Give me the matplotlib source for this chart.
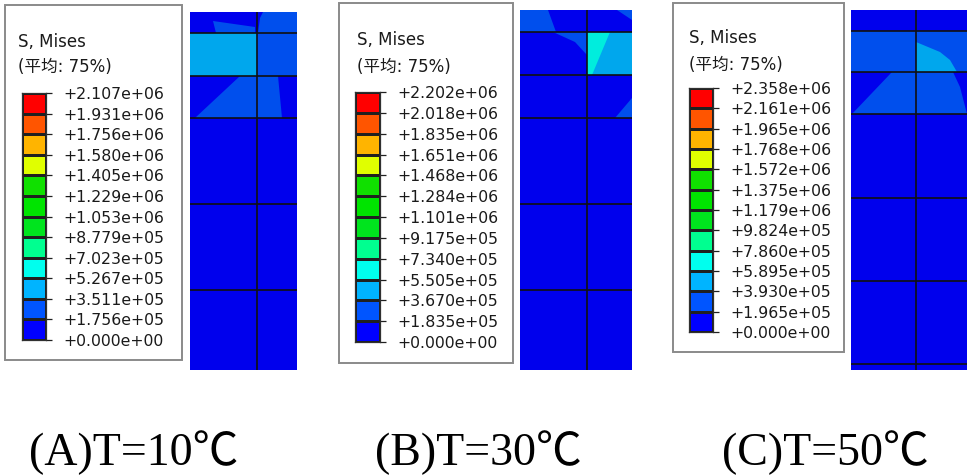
import matplotlib
matplotlib.use("Agg")
import matplotlib.pyplot as plt
from matplotlib.colors import ListedColormap, to_rgb
from matplotlib.patches import Rectangle, Polygon
import numpy as np

W, H = 969, 475

# Abaqus contour bands (bottom -> top)
band_colors = ['#0000ff', '#0055ff', '#00b4ff', '#00ffee', '#00ff90', '#00e41e',
               '#00e400', '#10e000', '#e0ff00', '#ffb400', '#ff5500', '#ff0000']

levels_A = [0.000e+00, 1.756e+05, 3.511e+05, 5.267e+05, 7.023e+05, 8.779e+05, 1.053e+06,
            1.229e+06, 1.405e+06, 1.580e+06, 1.756e+06, 1.931e+06, 2.107e+06]
levels_B = [0.000e+00, 1.835e+05, 3.670e+05, 5.505e+05, 7.340e+05, 9.175e+05, 1.101e+06,
            1.284e+06, 1.468e+06, 1.651e+06, 1.835e+06, 2.018e+06, 2.202e+06]
levels_C = [0.000e+00, 1.965e+05, 3.930e+05, 5.895e+05, 7.860e+05, 9.824e+05, 1.179e+06,
            1.375e+06, 1.572e+06, 1.768e+06, 1.965e+06, 2.161e+06, 2.358e+06]

captions = ['(A)T=10℃', '(B)T=30℃', '(C)T=50℃']
title1 = 'S, Mises'
title2 = '(平均: 75%)'

# mesh geometry (model units, y down) and band index of each element
xedges_A = [0, 67, 134]
yedges_A = [0, 21, 64, 106, 192, 278, 364]
cells_A = [[0, 0], [2, 1], [0, 0], [0, 0], [0, 0], [0, 0]]
zones_A = [(1, [(23, 9), (65, 15), (65, 21), (26, 21)]),
           (1, [(68, 21), (70, 6), (73, 0), (134, 0), (134, 21)]),
           (1, [(5, 106), (50, 64), (88, 64), (92, 106)])]

xedges_B = [0, 67, 134]
yedges_B = [0, 22, 65, 108, 194, 280, 366]
cells_B = [[0, 0], [0, 2], [0, 0], [0, 0], [0, 0], [0, 0]]
zones_B = [(1, [(0, 0), (28, 0), (36, 22), (0, 22)]),
           (1, [(97, 0), (112, 0), (112, 10)]),
           (1, [(33, 22), (67, 22), (67, 45), (55, 32)]),
           (3, [(67, 22), (90, 22), (72, 65), (67, 65)]),
           (1, [(95, 108), (112, 88), (112, 108)])]

xedges_C = [0, 65, 130]
yedges_C = [0, 21, 62, 104, 188, 271, 354, 437]
cells_C = [[0, 0], [1, 1], [0, 0], [0, 0], [0, 0], [0, 0], [0, 0]]
zones_C = [(2, [(65, 32), (89, 42), (99, 50), (106, 62), (65, 62)]),
           (1, [(1, 104), (41, 62), (102, 62), (109, 77), (116, 104)])]

# layout in pixels: legend box, colour bar, title x/y, mesh window, caption x
panels = [
    dict(levels=levels_A, box=(5, 5, 182, 360), bar=(22, 93, 46, 340), tx=18, ty=(42, 67),
         mesh=(190, 12, 297, 370), xe=xedges_A, ye=yedges_A, cells=cells_A, zones=zones_A, cx=134),
    dict(levels=levels_B, box=(339, 3, 513, 363), bar=(355, 92, 380, 342), tx=357, ty=(40, 67),
         mesh=(520, 10, 632, 370), xe=xedges_B, ye=yedges_B, cells=cells_B, zones=zones_B, cx=478),
    dict(levels=levels_C, box=(673, 3, 844, 352), bar=(689, 88, 713, 332), tx=689, ty=(38, 65),
         mesh=(851, 10, 967, 370), xe=xedges_C, ye=yedges_C, cells=cells_C, zones=zones_C, cx=825),
]

cmap = ListedColormap(band_colors)
mesh_colors = [tuple(np.array(to_rgb(c)) * 0.93) for c in band_colors]
mesh_cmap = ListedColormap(mesh_colors)

fig = plt.figure(figsize=(W / 100, H / 100), dpi=100)
fig.patch.set_facecolor('white')

def px_rect(x0, y0, x1, y1):
    return [x0 / W, 1 - y1 / H, (x1 - x0) / W, (y1 - y0) / H]

bg = fig.add_axes([0, 0, 1, 1])
bg.set_xlim(0, W)
bg.set_ylim(H, 0)
bg.axis('off')

for i, p in enumerate(panels):
    x0, y0, x1, y1 = p['box']
    bg.add_patch(Rectangle((x0, y0), x1 - x0, y1 - y0, facecolor='white',
                           edgecolor='#8a8a8a', lw=1.4))
    bg.text(p['tx'], p['ty'][0], title1, fontsize=12, color='#1a1a1a', va='center',
            family=['DejaVu Sans', 'Noto Sans CJK SC'])
    bg.text(p['tx'], p['ty'][1], title2, fontsize=12, color='#1a1a1a', va='center',
            family=['DejaVu Sans', 'Noto Sans CJK SC'])
    bg.text(p['cx'], 465, captions[i], fontsize=33, ha='center',
            va='baseline', color='black',
            family=['Liberation Serif', 'Noto Sans CJK SC'])

    # colour bar
    lev = p['levels']
    cax = fig.add_axes(px_rect(*p['bar']))
    cax.pcolormesh([0, 1], lev, np.arange(12).reshape(-1, 1), cmap=cmap,
                   vmin=-0.5, vmax=11.5, edgecolors='#202020', linewidth=0.9)
    cax.set_ylim(lev[0], lev[-1])
    cax.set_xlim(0, 1)
    cax.set_xticks([])
    cax.yaxis.tick_right()
    cax.set_yticks(lev)
    cax.set_yticklabels(['{:+.3e}'.format(v) for v in lev], fontsize=11.3,
                        color='#1a1a1a')
    cax.tick_params(axis='y', length=4.5, width=0.9, pad=8, color='#202020')
    for s in cax.spines.values():
        s.set_color('#303030')
        s.set_linewidth(0.9)

    # mesh
    mx0, my0, mx1, my1 = p['mesh']
    max_ = fig.add_axes(px_rect(mx0, my0, mx1, my1))
    max_.pcolormesh(p['xe'], p['ye'], np.array(p['cells']), cmap=mesh_cmap,
                    vmin=-0.5, vmax=11.5)
    for band, verts in p['zones']:
        max_.add_patch(Polygon(verts, closed=True, facecolor=mesh_colors[band],
                               edgecolor='none'))
    max_.hlines(p['ye'][1:], 0, p['xe'][-1], colors='#101010', lw=1.2)
    max_.vlines(p['xe'][1:-1], 0, p['ye'][-1], colors='#101010', lw=1.2)
    max_.set_xlim(0, mx1 - mx0)
    max_.set_ylim(my1 - my0, 0)
    max_.axis('off')

fig.savefig('out.png', dpi=100, facecolor='white')
